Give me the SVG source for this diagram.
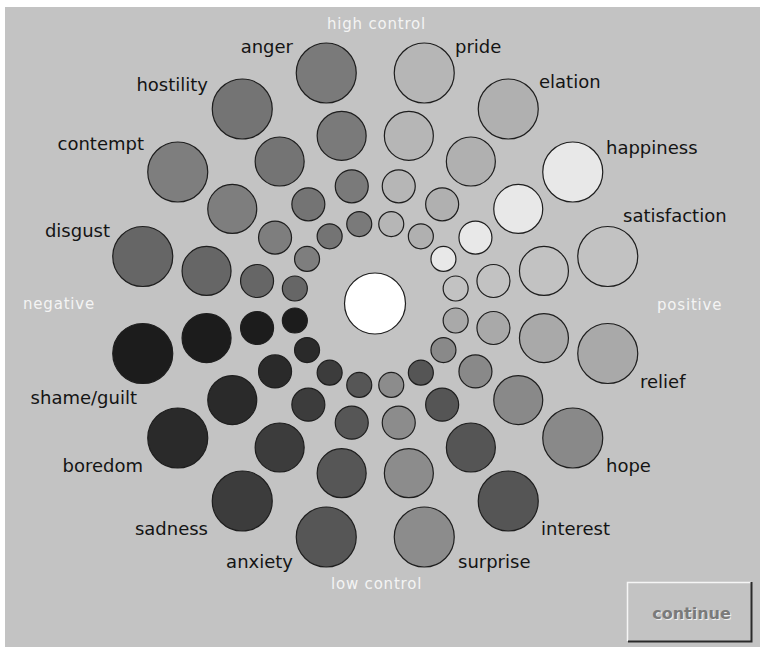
<svg xmlns="http://www.w3.org/2000/svg" width="760" height="649" viewBox="0 0 760 649">
<style>
.c{stroke:#1e1e1e;stroke-width:1.2}
.lbl{font-family:"DejaVu Sans","Liberation Sans",sans-serif;font-size:18px;fill:#141414}
.ax{font-family:"DejaVu Sans","Liberation Sans",sans-serif;font-size:15px;fill:#f4f4f4;letter-spacing:0.8px}
.e{text-anchor:end}
.anger{fill:#7a7a7a}.pride{fill:#b6b6b6}.elation{fill:#b0b0b0}.happiness{fill:#e8e8e8}
.satisfaction{fill:#c2c2c2}.relief{fill:#a9a9a9}.hope{fill:#898989}.interest{fill:#555555}
.surprise{fill:#8c8c8c}.anxiety{fill:#565656}.sadness{fill:#3c3c3c}.boredom{fill:#2a2a2a}
.shame{fill:#1c1c1c}.disgust{fill:#666666}.contempt{fill:#7e7e7e}.hostility{fill:#747474}
</style>
<rect x="0" y="0" width="760" height="649" fill="#ffffff"/>
<rect x="5" y="7" width="755" height="640" fill="#c3c3c3"/>
<g id="axes">
<text class="ax" x="327" y="29">high control</text>
<text class="ax" x="331" y="589">low control</text>
<text class="ax" x="23" y="309">negative</text>
<text class="ax" x="657" y="310">positive</text>
</g>
<g id="connectors"/>
<g id="center"><circle class="c" cx="375" cy="303.5" r="30.5" fill="#ffffff"/></g>
<g id="pride" class="pride">
<circle class="c" cx="391.25" cy="224.1" r="12.5"/><circle class="c" cx="398.75" cy="186.3" r="16.5"/><circle class="c" cx="408.85" cy="135.8" r="24.5"/><circle class="c" cx="424.25" cy="73" r="30"/>
<text class="lbl" x="455" y="53">pride</text></g>
<g id="elation" class="elation">
<circle class="c" cx="420.85" cy="236.3" r="12.5"/><circle class="c" cx="442.15" cy="204.3" r="16.5"/><circle class="c" cx="470.85" cy="161.5" r="24.5"/><circle class="c" cx="508.25" cy="109" r="30"/>
<text class="lbl" x="539" y="88">elation</text></g>
<g id="happiness" class="happiness">
<circle class="c" cx="443.45" cy="258.9" r="12.5"/><circle class="c" cx="475.45" cy="237.6" r="16.5"/><circle class="c" cx="518.25" cy="208.9" r="24.5"/><circle class="c" cx="572.75" cy="172" r="30"/>
<text class="lbl" x="606" y="154">happiness</text></g>
<g id="satisfaction" class="satisfaction">
<circle class="c" cx="455.65" cy="288.5" r="12.5"/><circle class="c" cx="493.45" cy="281" r="16.5"/><circle class="c" cx="543.95" cy="270.9" r="24.5"/><circle class="c" cx="607.75" cy="256.5" r="30"/>
<text class="lbl" x="623" y="222">satisfaction</text></g>
<g id="relief" class="relief">
<circle class="c" cx="455.65" cy="320.5" r="12.5"/><circle class="c" cx="493.45" cy="328" r="16.5"/><circle class="c" cx="543.95" cy="338.1" r="24.5"/><circle class="c" cx="607.75" cy="353.5" r="30"/>
<text class="lbl" x="640" y="388">relief</text></g>
<g id="hope" class="hope">
<circle class="c" cx="443.45" cy="350.1" r="12.5"/><circle class="c" cx="475.45" cy="371.4" r="16.5"/><circle class="c" cx="518.25" cy="400.1" r="24.5"/><circle class="c" cx="572.75" cy="438" r="30"/>
<text class="lbl" x="606" y="472">hope</text></g>
<g id="interest" class="interest">
<circle class="c" cx="420.85" cy="372.7" r="12.5"/><circle class="c" cx="442.15" cy="404.7" r="16.5"/><circle class="c" cx="470.85" cy="447.5" r="24.5"/><circle class="c" cx="508.25" cy="501" r="30"/>
<text class="lbl" x="541" y="535">interest</text></g>
<g id="surprise" class="surprise">
<circle class="c" cx="391.25" cy="384.9" r="12.5"/><circle class="c" cx="398.75" cy="422.7" r="16.5"/><circle class="c" cx="408.85" cy="473.2" r="24.5"/><circle class="c" cx="424.25" cy="537" r="30"/>
<text class="lbl" x="458" y="568">surprise</text></g>
<g id="anxiety" class="anxiety">
<circle class="c" cx="359.25" cy="384.9" r="12.5"/><circle class="c" cx="351.75" cy="422.7" r="16.5"/><circle class="c" cx="341.65" cy="473.2" r="24.5"/><circle class="c" cx="326.25" cy="537" r="30"/>
<text class="lbl e" x="293" y="568">anxiety</text></g>
<g id="sadness" class="sadness">
<circle class="c" cx="329.65" cy="372.7" r="12.5"/><circle class="c" cx="308.35" cy="404.7" r="16.5"/><circle class="c" cx="279.65" cy="447.5" r="24.5"/><circle class="c" cx="242.25" cy="501" r="30"/>
<text class="lbl e" x="208" y="535">sadness</text></g>
<g id="boredom" class="boredom">
<circle class="c" cx="307.05" cy="350.1" r="12.5"/><circle class="c" cx="275.05" cy="371.4" r="16.5"/><circle class="c" cx="232.25" cy="400.1" r="24.5"/><circle class="c" cx="177.75" cy="438" r="30"/>
<text class="lbl e" x="143" y="472">boredom</text></g>
<g id="shame-guilt" class="shame">
<circle class="c" cx="294.85" cy="320.5" r="12.5"/><circle class="c" cx="257.05" cy="328" r="16.5"/><circle class="c" cx="206.55" cy="338.1" r="24.5"/><circle class="c" cx="142.75" cy="353.5" r="30"/>
<text class="lbl e" x="137" y="404">shame/guilt</text></g>
<g id="disgust" class="disgust">
<circle class="c" cx="294.85" cy="288.5" r="12.5"/><circle class="c" cx="257.05" cy="281" r="16.5"/><circle class="c" cx="206.55" cy="270.9" r="24.5"/><circle class="c" cx="142.75" cy="256.5" r="30"/>
<text class="lbl e" x="110" y="237">disgust</text></g>
<g id="contempt" class="contempt">
<circle class="c" cx="307.05" cy="258.9" r="12.5"/><circle class="c" cx="275.05" cy="237.6" r="16.5"/><circle class="c" cx="232.25" cy="208.9" r="24.5"/><circle class="c" cx="177.75" cy="172" r="30"/>
<text class="lbl e" x="144" y="150">contempt</text></g>
<g id="hostility" class="hostility">
<circle class="c" cx="329.65" cy="236.3" r="12.5"/><circle class="c" cx="308.35" cy="204.3" r="16.5"/><circle class="c" cx="279.65" cy="161.5" r="24.5"/><circle class="c" cx="242.25" cy="109" r="30"/>
<text class="lbl e" x="208" y="91">hostility</text></g>
<g id="anger" class="anger">
<circle class="c" cx="359.25" cy="224.1" r="12.5"/><circle class="c" cx="351.75" cy="186.3" r="16.5"/><circle class="c" cx="341.65" cy="135.8" r="24.5"/><circle class="c" cx="326.25" cy="73" r="30"/>
<text class="lbl e" x="293" y="53">anger</text></g>
<g id="continue">
<rect x="627" y="582" width="125" height="60" fill="#c3c3c3"/>
<path d="M627.5 641 V582.5 H751" fill="none" stroke="#f6f6f6" stroke-width="1.5"/>
<path d="M628 641.5 H751.5 V582" fill="none" stroke="#2a2a2a" stroke-width="2"/>
<text x="692.5" y="620" text-anchor="middle" font-family="DejaVu Sans,Liberation Sans,sans-serif" font-weight="bold" font-size="16" fill="#efefef">continue</text>
<text x="691.5" y="619" text-anchor="middle" font-family="DejaVu Sans,Liberation Sans,sans-serif" font-weight="bold" font-size="16" fill="#7a7a7a">continue</text>
</g>
</svg>
